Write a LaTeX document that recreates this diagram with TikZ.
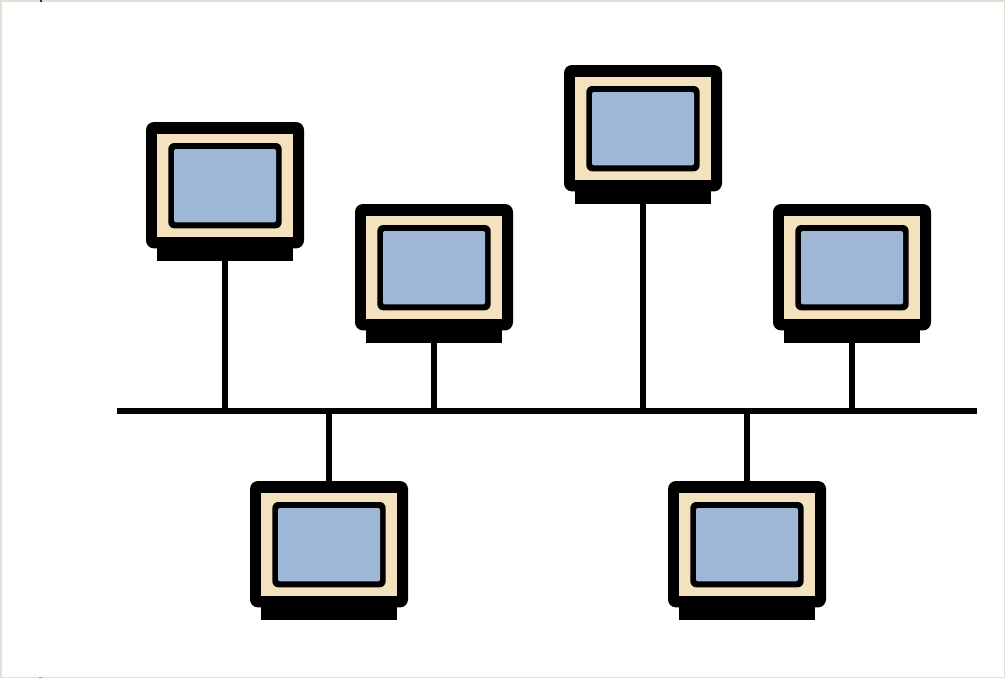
\documentclass[tikz,border=0pt]{standalone}
\definecolor{edgebeige}{HTML}{E6E0D4}
\definecolor{casecream}{HTML}{F3E2BD}
\definecolor{screenblue}{HTML}{9FB7D6}
\tikzset{
  x=0.75pt,y=-0.75pt,
  part/.style={rectangle,inner sep=0pt,outer sep=0pt,anchor=north},
  casebody/.style={part,fill=black,minimum width=118.5pt,minimum height=94.8pt,rounded corners=6pt},
  casefoot/.style={part,fill=black,minimum width=102pt,minimum height=14pt},
  caseface/.style={part,fill=casecream,minimum width=102pt,minimum height=77.6pt},
  screenrim/.style={part,fill=black,minimum width=85pt,minimum height=64pt,rounded corners=4.5pt},
  screenglass/.style={part,fill=screenblue,minimum width=76.5pt,minimum height=55pt,rounded corners=1.5pt},
  wire/.style={draw=black,line width=4.3pt},
  stem/.style={draw=black,line width=4.2pt},
}
\newcommand{\monitorat}[3]{%
  \node[casefoot] (#1foot) at (#2,#3+120) {};
  \node[casebody] (#1body) at (#2,#3) {};
  \node[caseface] (#1face) at (#2,#3+11.5) {};
  \node[screenrim] (#1rim) at (#2,#3+21) {};
  \node[screenglass] (#1glass) at (#2,#3+27) {};
}
\begin{document}
\begin{tikzpicture}
  \useasboundingbox (0,0) rectangle (1005,678);
  \fill[edgebeige] (0,0) rectangle (1005,678);
  \fill[white] (2,2) rectangle (1004,677);
  \fill[black!80] (39.5,0) rectangle (42,2);
  \fill[black!40] (38.5,677) rectangle (41.5,678);

  \coordinate (busL) at (117,411);
  \coordinate (busR) at (977,411);

  \monitorat{a}{225}{122}
  \monitorat{b}{434}{204}
  \monitorat{c}{643}{65}
  \monitorat{d}{852}{204}
  \monitorat{e}{329}{481}
  \monitorat{f}{747}{481}

  \draw[stem] (afoot.south) -- (afoot.south |- busL);
  \draw[stem] (bfoot.south) -- (bfoot.south |- busL);
  \draw[stem] (cfoot.south) -- (cfoot.south |- busL);
  \draw[stem] (dfoot.south) -- (dfoot.south |- busL);
  \draw[stem] (ebody.north) -- (ebody.north |- busL);
  \draw[stem] (fbody.north) -- (fbody.north |- busL);
  \draw[wire] (busL) -- (busR);
\end{tikzpicture}
\end{document}
